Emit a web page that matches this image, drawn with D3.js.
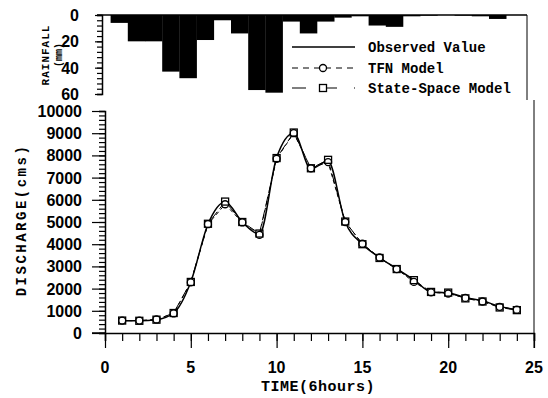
<!DOCTYPE html>
<html>
<head>
<meta charset="utf-8">
<script src="https://cdn.jsdelivr.net/npm/d3@7"></script>
<style>
  body { margin: 0; background: #fff; }
  svg { display: block; }
  .tick-lbl { font-family: "Liberation Sans", Arial, sans-serif; font-weight: bold; font-size: 16px; fill: #000; }
  .mono { font-family: "Liberation Mono", "Courier New", monospace; font-weight: bold; fill: #000; }
</style>
</head>
<body>
<svg id="chart" width="548" height="398"></svg>
<script>
// time steps (6 hours)
const time = d3.range(1, 25);
// rainfall (mm) per time step
const rainfall = [6, 20, 20, 43, 48, 19, 4, 14, 57, 59, 5, 14, 5, 2, 1, 8, 9, 1, 0.5, 0, 0.5, 1, 3, 0];
// discharge (cms)
const observed = [550, 550, 600, 900, 2300, 4900, 5900, 5000, 4450, 7900, 9000, 7400, 7750, 5000, 4000, 3400, 2900, 2400, 1850, 1800, 1600, 1450, 1200, 1050];
const tfn = [560, 560, 610, 880, 2280, 4900, 5800, 4980, 4420, 7850, 9000, 7420, 7700, 5000, 4020, 3400, 2880, 2300, 1830, 1780, 1580, 1420, 1180, 1050];
const stateSpace = [560, 550, 600, 900, 2300, 4920, 5920, 5000, 4480, 7880, 9030, 7420, 7800, 5020, 4000, 3380, 2880, 2380, 1850, 1820, 1560, 1420, 1150, 1030];

const xTicks = [0, 5, 10, 15, 20, 25];
const yTicks = d3.range(0, 10001, 1000);
const rainTicks = [0, 20, 40, 60];
const legendItems = ["Observed Value", "TFN Model", "State-Space Model"];

const svg = d3.select("#chart");

// scales
const x = d3.scaleLinear().domain([0, 25]).range([105, 534]);
const y = d3.scaleLinear().domain([0, 10000]).range([333, 111]);
const xR = d3.scaleLinear().domain([0, 25]).range([102, 532]);
const yR = d3.scaleLinear().domain([0, 60]).range([15, 94]);

// ---- rainfall panel ----
const rain = svg.append("g");
rain.selectAll("rect")
  .data(rainfall)
  .join("rect")
  .attr("x", (d, i) => xR(time[i] - 0.5))
  .attr("width", xR(1) - xR(0) + 0.3)
  .attr("y", yR(0))
  .attr("height", (d) => yR(d) - yR(0))
  .attr("fill", "#000");

// zero line & right edge
rain.append("line").attr("x1", 97).attr("x2", 527).attr("y1", yR(0)).attr("y2", yR(0))
  .attr("stroke", "#000").attr("stroke-width", 1.5);
rain.append("line").attr("x1", 527).attr("x2", 527).attr("y1", yR(0)).attr("y2", 100)
  .attr("stroke", "#000").attr("stroke-width", 1);

// rainfall axis with minor ticks
const rAx = rain.append("g").attr("transform", `translate(${xR(0)},0)`);
rAx.call(d3.axisLeft(yR).tickValues(d3.range(0, 61, 4)).tickSize(5).tickFormat(""));
rAx.select(".domain").attr("stroke-width", 1.5);
rAx.append("g").call(d3.axisLeft(yR).tickValues(rainTicks).tickSize(7).tickFormat(""))
  .select(".domain").remove();
rAx.selectAll(".tick line").attr("stroke-width", 1.2);
rain.selectAll("text.rlab")
  .data(rainTicks)
  .join("text")
  .attr("class", "tick-lbl rlab")
  .attr("x", 79)
  .attr("y", (d) => yR(d) + 6)
  .attr("text-anchor", "end")
  .text((d) => d);
rain.append("text").attr("class", "mono")
  .attr("transform", "translate(49,55) rotate(-90)")
  .attr("text-anchor", "middle").style("font-size", "11px").style("letter-spacing", "1px")
  .text("RAINFALL");
rain.append("text").attr("class", "mono")
  .attr("transform", "translate(62,55) rotate(-90)")
  .attr("text-anchor", "middle").style("font-size", "10px")
  .text("(mm)");

// ---- discharge panel ----
const main = svg.append("g");

// y axis
const yAx = main.append("g").attr("transform", `translate(${x(0)},0)`);
yAx.call(d3.axisLeft(y).tickValues(d3.range(0, 10001, 200)).tickSize(6).tickFormat(""));
yAx.select(".domain").attr("stroke-width", 1.5);
yAx.append("g").call(d3.axisLeft(y).tickValues(yTicks).tickSize(13).tickFormat(""))
  .select(".domain").remove();
yAx.selectAll(".tick line").attr("stroke-width", 1.2);
main.selectAll("text.ylab")
  .data(yTicks)
  .join("text")
  .attr("class", "tick-lbl ylab")
  .attr("x", 82)
  .attr("y", (d) => y(d) + 6)
  .attr("text-anchor", "end")
  .text((d) => d);

// x axis
const xAx = main.append("g").attr("transform", `translate(0,${y(0)})`);
xAx.call(d3.axisBottom(x).tickValues(d3.range(0, 26, 1)).tickSize(8).tickFormat(""));
xAx.select(".domain").attr("stroke-width", 1.5);
xAx.append("g").call(d3.axisBottom(x).tickValues(xTicks).tickSize(15).tickFormat(""))
  .select(".domain").remove();
xAx.selectAll(".tick line").attr("stroke-width", 1.2);
main.append("line").attr("x1", 92).attr("x2", x(0)).attr("y1", y(0)).attr("y2", y(0))
  .attr("stroke", "#000").attr("stroke-width", 1.5);
main.selectAll("text.xlab")
  .data(xTicks)
  .join("text")
  .attr("class", "tick-lbl xlab")
  .attr("x", (d) => x(d))
  .attr("y", 373)
  .attr("text-anchor", "middle")
  .text((d) => d);

// right border
main.append("line").attr("x1", x(25)).attr("x2", x(25)).attr("y1", 100).attr("y2", y(0) + 15)
  .attr("stroke", "#000").attr("stroke-width", 1);

// axis titles
main.append("text").attr("class", "mono")
  .attr("x", 318).attr("y", 391)
  .attr("text-anchor", "middle")
  .style("font-size", "15px").style("letter-spacing", "0.5px")
  .text("TIME(6hours)");
main.append("text").attr("class", "mono")
  .attr("transform", "translate(26,220) rotate(-90)")
  .attr("text-anchor", "middle")
  .style("font-size", "14px").style("letter-spacing", "2.5px")
  .text("DISCHARGE(cms)");

// lines
const lineObs = d3.line().x((d, i) => x(time[i])).y((d) => y(d)).curve(d3.curveMonotoneX);
const lineLin = d3.line().x((d, i) => x(time[i])).y((d) => y(d));

main.append("path").attr("d", lineObs(observed))
  .attr("fill", "none").attr("stroke", "#000").attr("stroke-width", 1.5);
main.append("path").attr("d", lineLin(tfn))
  .attr("fill", "none").attr("stroke", "#000").attr("stroke-width", 1).attr("stroke-dasharray", "4,3");
main.append("path").attr("d", lineLin(stateSpace))
  .attr("fill", "none").attr("stroke", "#000").attr("stroke-width", 1).attr("stroke-dasharray", "10,4");

// markers
main.selectAll("circle.tfn")
  .data(tfn)
  .join("circle")
  .attr("class", "tfn")
  .attr("cx", (d, i) => x(time[i]))
  .attr("cy", (d) => y(d))
  .attr("r", 3.5)
  .attr("fill", "#fff").attr("stroke", "#000").attr("stroke-width", 1.3);
main.selectAll("rect.ss")
  .data(stateSpace)
  .join("rect")
  .attr("class", "ss")
  .attr("x", (d, i) => x(time[i]) - 3.5)
  .attr("y", (d) => y(d) - 3.5)
  .attr("width", 7).attr("height", 7)
  .attr("fill", "none").attr("stroke", "#000").attr("stroke-width", 1.3);

// ---- legend ----
const lg = svg.append("g");
const lgY = [47, 68, 88];
lg.append("rect").attr("x", 286).attr("y", 34).attr("width", 240).attr("height", 64).attr("fill", "#fff");
lg.selectAll("text")
  .data(legendItems)
  .join("text")
  .attr("class", "mono")
  .attr("x", 368)
  .attr("y", (d, i) => lgY[i] + 5)
  .style("font-size", "14px")
  .text((d) => d);
lg.append("line").attr("x1", 292).attr("x2", 355).attr("y1", lgY[0]).attr("y2", lgY[0])
  .attr("stroke", "#000").attr("stroke-width", 1.3);
lg.append("line").attr("x1", 292).attr("x2", 355).attr("y1", lgY[1]).attr("y2", lgY[1])
  .attr("stroke", "#000").attr("stroke-width", 1.2).attr("stroke-dasharray", "6,5");
lg.append("circle").attr("cx", 323).attr("cy", lgY[1]).attr("r", 3.5)
  .attr("fill", "#fff").attr("stroke", "#000").attr("stroke-width", 1.3);
lg.append("line").attr("x1", 292).attr("x2", 355).attr("y1", lgY[2]).attr("y2", lgY[2])
  .attr("stroke", "#000").attr("stroke-width", 1.2).attr("stroke-dasharray", "14,17");
lg.append("rect").attr("x", 319.5).attr("y", lgY[2] - 3.5).attr("width", 7).attr("height", 7)
  .attr("fill", "#fff").attr("stroke", "#000").attr("stroke-width", 1.3);
</script>
</body>
</html>
